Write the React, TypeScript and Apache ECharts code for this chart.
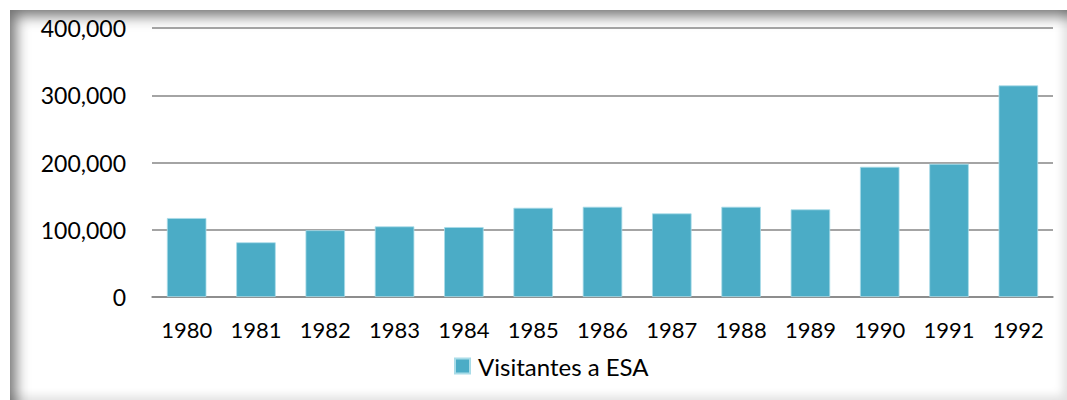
import React, { useEffect, useRef } from "react";
import * as echarts from "echarts";

const years = ["1980", "1981", "1982", "1983", "1984", "1985", "1986", "1987", "1988", "1989", "1990", "1991", "1992"];
const visitantes = [117400, 81300, 99300, 105000, 104000, 132700, 134200, 124300, 134200, 130300, 193600, 198100, 314600];
const seriesName = "Visitantes a ESA";

export default function App() {
  const ref = useRef<HTMLDivElement>(null);
  useEffect(() => {
    if (!ref.current) return;
    const chart = echarts.init(ref.current, undefined, { renderer: "svg" });
    chart.setOption({
      animation: false,
      grid: { left: 152, right: 14, top: 28, bottom: 103, containLabel: false },
      legend: {
        data: [seriesName],
        left: 454,
        top: 354,
        padding: 0,
        itemWidth: 15,
        itemHeight: 15,
        icon: "rect",
        textStyle: { fontFamily: "Lato", fontSize: 24, color: "#000", padding: [0, 0, 0, 3] },
      },
      xAxis: {
        type: "category",
        data: years,
        axisTick: { show: false },
        axisLine: { show: true, lineStyle: { color: "#868686", width: 1.5 } },
        axisLabel: { fontFamily: "Lato", fontSize: 22, color: "#000", margin: 21 },
      },
      yAxis: {
        type: "value",
        min: 0,
        max: 400000,
        interval: 100000,
        axisLine: { show: false },
        axisTick: { show: false },
        splitLine: { lineStyle: { color: "#868686", width: 1.5 } },
        axisLabel: {
          fontFamily: "Lato",
          fontSize: 23,
          color: "#000",
          margin: 26,
          formatter: (v: number) => v.toLocaleString("en-US"),
        },
      },
      series: [
        {
          name: seriesName,
          type: "bar",
          data: visitantes,
          barWidth: "57%",
          itemStyle: { color: "#4BACC6", borderColor: "#A9DCE8", borderWidth: 0.8 },
        },
      ],
    });
    return () => chart.dispose();
  }, []);
  return (
    <div style={{ position: "fixed", left: 0, top: 0, width: 1067, height: 400, background: "#fff" }}>
      <div
        style={{
          position: "absolute",
          left: 10,
          top: 10,
          width: 1057,
          height: 390,
          boxShadow:
            "inset 14px 14px 14px -8px rgba(0,0,0,0.55), inset -10px -10px 10px -6px rgba(0,0,0,0.12)",
        }}
      />
      <div ref={ref} style={{ position: "absolute", left: 0, top: 0, width: 1067, height: 400 }} />
    </div>
  );
}
